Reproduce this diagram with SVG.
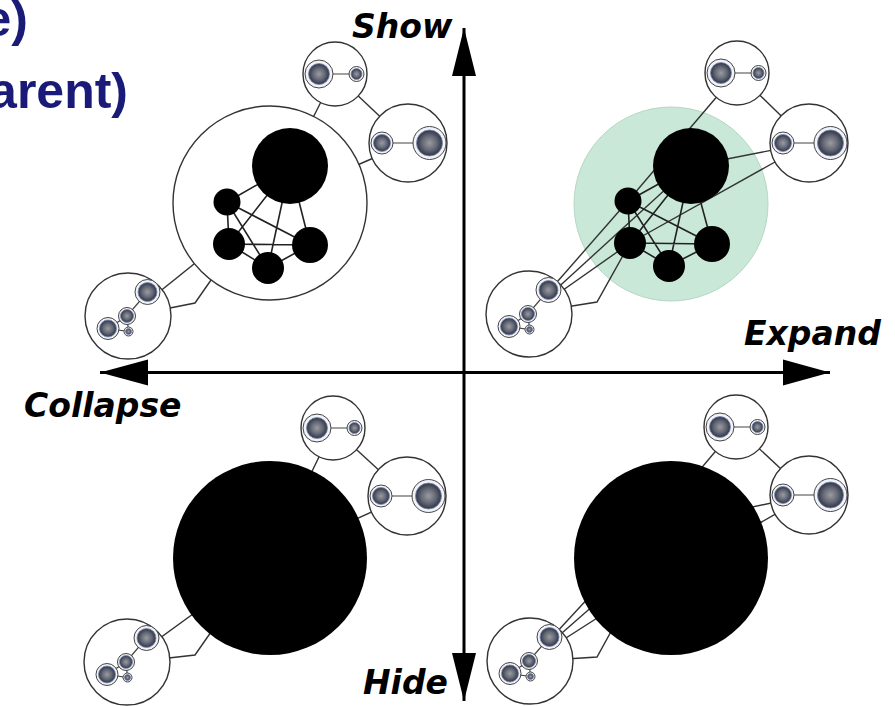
<svg xmlns="http://www.w3.org/2000/svg" xmlns:xlink="http://www.w3.org/1999/xlink" width="895" height="706" viewBox="0 0 895 706">
<style>
.bg{fill:#fff}
.oc{fill:#fff;stroke:#333;stroke-width:1.4}
.ring{fill:#f2f3f8;stroke:#444;stroke-width:1}
.disc{fill:url(#dg);stroke:#7b88b4;stroke-width:0.8}
.e{stroke:#333;stroke-width:1.4;fill:none}
.se{stroke:#444;stroke-width:1.2;fill:none}
.ie{stroke:#222;stroke-width:1.6;fill:none}
.blk{fill:#000}
.grn{fill:#c9e8d8;stroke:#b5d8c5;stroke-width:1}
.axis{stroke:#000;stroke-width:3;fill:none}
.head{fill:#000}
.lbl{font-family:"DejaVu Sans",Verdana,sans-serif;font-weight:bold;font-style:oblique;font-size:33px;fill:#000}
.title{font-family:"Liberation Sans",Arial,sans-serif;font-weight:bold;font-size:50px;fill:#1a1a78}
</style>
<defs>
<radialGradient id="dg" cx="0.5" cy="0.5" r="0.5">
<stop offset="0" stop-color="#9a9ba2"/>
<stop offset="0.55" stop-color="#666a76"/>
<stop offset="1" stop-color="#2f3546"/>
</radialGradient>
<g id="aIn">
<line class="se" x1="-16" y1="0" x2="21.5" y2="0"/>
<circle class="ring" cx="-16" cy="0" r="14"/><circle class="disc" cx="-16" cy="0" r="10.5"/>
<circle class="ring" cx="21.5" cy="0" r="7.5"/><circle class="disc" cx="21.5" cy="0" r="5.5"/>
</g>
<g id="bIn">
<line class="se" x1="-26" y1="0" x2="21.5" y2="0"/>
<circle class="ring" cx="-26" cy="0" r="11"/><circle class="disc" cx="-26" cy="0" r="8.5"/>
<circle class="ring" cx="21.5" cy="0" r="16.5"/><circle class="disc" cx="21.5" cy="0" r="13"/>
</g>
<g id="cIn">
<path class="se" d="M19.5,-24 L-1,0 L-20,12.5 L0.5,15.5 L-1,0"/>
<circle class="ring" cx="19.5" cy="-24" r="12.5"/><circle class="disc" cx="19.5" cy="-24" r="9.5"/>
<circle class="ring" cx="-1" cy="0" r="8.5"/><circle class="disc" cx="-1" cy="0" r="6.5"/>
<circle class="ring" cx="-20" cy="12.5" r="11"/><circle class="disc" cx="-20" cy="12.5" r="8.5"/>
<circle class="ring" cx="0.5" cy="15.5" r="4.5"/><circle class="disc" cx="0.5" cy="15.5" r="3"/>
</g>
</defs>
<rect class="bg" x="0" y="0" width="895" height="706"/>

<g id="title">
<text class="title" x="28" y="36" text-anchor="end">e)</text>
<text class="title" x="128" y="108" text-anchor="end">arent)</text>
</g>

<!-- Top-left quadrant: collapsed parent, shown -->
<g id="tl-connectors">
<line class="e" x1="335" y1="74" x2="408" y2="143"/>
<line class="e" x1="335" y1="74" x2="270" y2="203"/>
<line class="e" x1="408" y1="143" x2="270" y2="203"/>
<line class="e" x1="128" y1="317" x2="270" y2="203"/>
<polyline class="e" points="165,309 195,303 218,270"/>
</g>
<g id="tl-parent"><circle class="oc" cx="270" cy="203" r="97"/></g>
<g id="tl-inner-edges">
<path class="ie" d="M227,202 L290,166 M227,202 L229,244 M227,202 L268,268 M227,202 L310,245 M290,166 L229,244 M290,166 L268,268 M290,166 L310,245 M229,244 L310,245 M229,244 L268,268 M268,268 L310,245"/>
</g>
<g id="tl-n1"><circle class="blk" cx="290" cy="166" r="38"/></g>
<g id="tl-n2"><circle class="blk" cx="227" cy="202" r="13.5"/></g>
<g id="tl-n3"><circle class="blk" cx="229" cy="244" r="16"/></g>
<g id="tl-n4"><circle class="blk" cx="268" cy="268" r="16"/></g>
<g id="tl-n5"><circle class="blk" cx="310" cy="245" r="18"/></g>
<g id="tl-a"><circle class="oc" cx="335" cy="74" r="32"/><use xlink:href="#aIn" href="#aIn" x="335" y="74"/></g>
<g id="tl-b"><circle class="oc" cx="408" cy="143" r="39"/><use xlink:href="#bIn" href="#bIn" x="408" y="143"/></g>
<g id="tl-c"><circle class="oc" cx="128" cy="316" r="43"/><use xlink:href="#cIn" href="#cIn" x="128" y="316"/></g>

<!-- Top-right quadrant: expanded parent, shown -->
<g id="tr-parent"><circle class="grn" cx="671" cy="204" r="97"/></g>
<g id="tr-connectors">
<line class="e" x1="737" y1="73" x2="809" y2="143"/>
<line class="e" x1="737" y1="73" x2="628" y2="201"/>
<line class="e" x1="809" y1="143" x2="691" y2="166"/>
<line class="e" x1="809" y1="143" x2="630" y2="243"/>
<line class="e" x1="529" y1="314" x2="628" y2="201"/>
<line class="e" x1="529" y1="314" x2="691" y2="166"/>
<line class="e" x1="529" y1="314" x2="630" y2="243"/>
<polyline class="e" points="566,307 597,302 630,243"/>
</g>
<g id="tr-inner-edges">
<path class="ie" d="M628,201 L691,166 M628,201 L630,243 M628,201 L669,266 M628,201 L712,244 M691,166 L630,243 M691,166 L669,266 M691,166 L712,244 M630,243 L712,244 M630,243 L669,266 M669,266 L712,244"/>
</g>
<g id="tr-n1"><circle class="blk" cx="691" cy="166" r="38"/></g>
<g id="tr-n2"><circle class="blk" cx="628" cy="201" r="13.5"/></g>
<g id="tr-n3"><circle class="blk" cx="630" cy="243" r="16"/></g>
<g id="tr-n4"><circle class="blk" cx="669" cy="266" r="16"/></g>
<g id="tr-n5"><circle class="blk" cx="712" cy="244" r="18"/></g>
<g id="tr-a"><circle class="oc" cx="737" cy="73" r="32"/><use xlink:href="#aIn" href="#aIn" x="737" y="73"/></g>
<g id="tr-b"><circle class="oc" cx="809" cy="143" r="39"/><use xlink:href="#bIn" href="#bIn" x="809" y="143"/></g>
<g id="tr-c"><circle class="oc" cx="529" cy="314" r="43"/><use xlink:href="#cIn" href="#cIn" x="529" y="314"/></g>

<!-- Bottom-left quadrant: collapsed, hidden -->
<g id="bl-connectors">
<line class="e" x1="333" y1="428" x2="407" y2="496"/>
<line class="e" x1="333" y1="428" x2="270" y2="558"/>
<line class="e" x1="407" y1="496" x2="270" y2="558"/>
<line class="e" x1="127" y1="662" x2="270" y2="558"/>
<polyline class="e" points="160,659 195,655 218,622"/>
</g>
<g id="bl-parent"><circle class="blk" cx="270" cy="558" r="97"/></g>
<g id="bl-a"><circle class="oc" cx="333" cy="428" r="32"/><use xlink:href="#aIn" href="#aIn" x="333" y="428"/></g>
<g id="bl-b"><circle class="oc" cx="407" cy="496" r="39"/><use xlink:href="#bIn" href="#bIn" x="407" y="496"/></g>
<g id="bl-c"><circle class="oc" cx="127" cy="662" r="43"/><use xlink:href="#cIn" href="#cIn" x="127" y="662"/></g>

<!-- Bottom-right quadrant: expanded, hidden -->
<g id="br-connectors">
<line class="e" x1="736" y1="427" x2="809" y2="495"/>
<line class="e" x1="736" y1="427" x2="628" y2="555"/>
<line class="e" x1="809" y1="495" x2="691" y2="520"/>
<line class="e" x1="809" y1="495" x2="630" y2="597"/>
<line class="e" x1="530" y1="661" x2="628" y2="555"/>
<line class="e" x1="530" y1="661" x2="691" y2="520"/>
<line class="e" x1="530" y1="661" x2="630" y2="597"/>
<polyline class="e" points="566,659 597,657 630,597"/>
</g>
<g id="br-parent"><circle class="blk" cx="671" cy="558" r="97"/></g>
<g id="br-a"><circle class="oc" cx="736" cy="427" r="32"/><use xlink:href="#aIn" href="#aIn" x="736" y="427"/></g>
<g id="br-b"><circle class="oc" cx="809" cy="495" r="39"/><use xlink:href="#bIn" href="#bIn" x="809" y="495"/></g>
<g id="br-c"><circle class="oc" cx="530" cy="661" r="43"/><use xlink:href="#cIn" href="#cIn" x="530" y="661"/></g>

<!-- Axes -->
<g id="axes">
<line class="axis" x1="100" y1="372.5" x2="830" y2="372.5"/>
<line class="axis" x1="464" y1="28" x2="464" y2="701"/>
<polygon class="head" points="100,372.5 148,359.5 148,385.5"/>
<polygon class="head" points="830,372.5 783,359.5 783,385.5"/>
<polygon class="head" points="464,28 452,76 476,76"/>
<polygon class="head" points="464,701 452,653 476,653"/>
</g>
<g id="labels">
<text class="lbl" x="352" y="38" font-size="34">Show</text>
<text class="lbl" x="24" y="417">Collapse</text>
<text class="lbl" x="744" y="345">Expand</text>
<text class="lbl" x="363" y="694">Hide</text>
</g>
</svg>
